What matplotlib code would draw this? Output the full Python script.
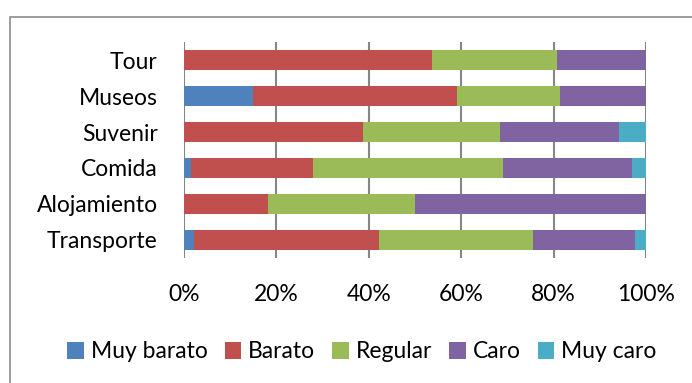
import matplotlib
matplotlib.use("Agg")
import matplotlib.pyplot as plt
import matplotlib.patches as patches
import numpy as np

plt.rcParams['font.family'] = ['Lato', 'DejaVu Sans']

categories = ["Tour", "Museos", "Suvenir", "Comida", "Alojamiento", "Transporte"]
series_names = ["Muy barato", "Barato", "Regular", "Caro", "Muy caro"]

muy_barato = [0.0, 14.9, 0.0, 1.5, 0.0, 2.2]
barato = [53.7, 44.2, 38.8, 26.4, 18.2, 40.0]
regular = [27.0, 22.3, 29.6, 41.2, 31.8, 33.3]
caro = [19.3, 18.6, 25.8, 27.8, 50.0, 22.2]
muy_caro = [0.0, 0.0, 5.8, 3.1, 0.0, 2.3]

colors = ["#4F81BD", "#C0504D", "#9BBB59", "#8064A2", "#4BACC6"]
fs = 16.5

fig = plt.figure(figsize=(6.92, 3.83), dpi=100)
ax = fig.add_axes([0.266, 0.3264, 0.6675, 0.5639])

# outer chart border (box runs past right/bottom edge of the image)
border = patches.Rectangle((10 / 692, -0.1), 1.0, 1 - 17 / 383 + 0.1,
                           transform=fig.transFigure, fill=False,
                           edgecolor="#8c8c8c", linewidth=1.2)
fig.patches.append(border)

y = np.arange(len(categories))
left = np.zeros(len(categories))
for name, vals, col in zip(series_names, [muy_barato, barato, regular, caro, muy_caro], colors):
    vals = np.array(vals)
    ax.barh(y, vals, left=left, height=0.57, color=col, label=name, zorder=3)
    left += vals

ax.set_xlim(0, 100)
ax.set_ylim(len(categories) - 0.5, -0.5)
ax.set_yticks(y)
ax.set_yticklabels(categories, fontsize=fs)
ax.set_xticks([0, 20, 40, 60, 80, 100])
ax.set_xticklabels(["0%", "20%", "40%", "60%", "80%", "100%"], fontsize=fs)
ax.tick_params(axis="both", length=0)
ax.tick_params(axis="x", pad=19)
ax.tick_params(axis="y", pad=19)
ax.xaxis.grid(True, color="#868686", linewidth=1.5, zorder=0)
for s in ax.spines.values():
    s.set_visible(False)

fig.legend(loc="center", bbox_to_anchor=(362 / 692, 1 - 352 / 383), ncol=5,
           frameon=False, fontsize=fs, handlelength=0.72, handleheight=0.72,
           handletextpad=0.3, columnspacing=0.75)

fig.savefig("out.png", dpi=100)
